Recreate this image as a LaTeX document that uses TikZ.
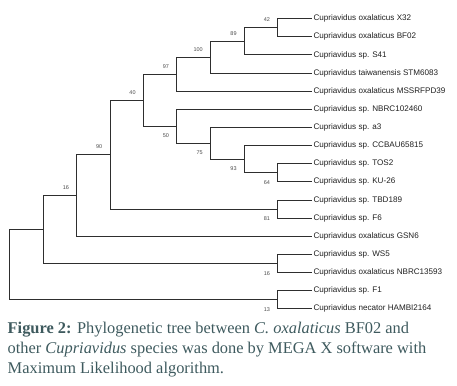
\documentclass[tikz,border=0pt]{standalone}
\usepackage{fontspec}
\setmainfont{Liberation Serif}
\newfontfamily\arialf{Liberation Sans}
\definecolor{capcol}{HTML}{3E5A5E}
\begin{document}
\begin{tikzpicture}[x=1pt,y=-1pt,
  branch/.style={draw=black!82, line width=0.9pt},
  leaflab/.style={anchor=west, font=\arialf\fontsize{8.1}{9}\selectfont, text=black!88, inner xsep=1.8pt, inner ysep=0pt},
  boot/.style={anchor=east, font=\arialf\fontsize{5.5}{6}\selectfont, text=black!70, inner sep=0pt},
  caption/.style={anchor=base west, font=\fontsize{16.4}{20}\selectfont, text=capcol, inner sep=0pt}]
\useasboundingbox (0,0) rectangle (457,385);
% leaves
\node[leaflab] (t0) at (311.5,18.7) {Cupriavidus oxalaticus X32};
\node[leaflab] (t1) at (311.5,36.8) {Cupriavidus oxalaticus BF02};
\node[leaflab] (t2) at (311.5,54.95) {Cupriavidus sp. S41};
\node[leaflab] (t3) at (311.5,73.1) {Cupriavidus taiwanensis STM6083};
\node[leaflab] (t4) at (311.5,91.2) {Cupriavidus oxalaticus MSSRFPD39};
\node[leaflab] (t5) at (311.5,109.3) {Cupriavidus sp. NBRC102460};
\node[leaflab] (t6) at (311.5,127.45) {Cupriavidus sp. a3};
\node[leaflab] (t7) at (311.5,145.6) {Cupriavidus sp. CCBAU65815};
\node[leaflab] (t8) at (311.5,163.7) {Cupriavidus sp. TOS2};
\node[leaflab] (t9) at (311.5,181.8) {Cupriavidus sp. KU-26};
\node[leaflab] (t10) at (311.5,199.95) {Cupriavidus sp. TBD189};
\node[leaflab] (t11) at (311.5,218.1) {Cupriavidus sp. F6};
\node[leaflab] (t12) at (311.5,236.2) {Cupriavidus oxalaticus GSN6};
\node[leaflab] (t13) at (311.5,254.3) {Cupriavidus sp. WS5};
\node[leaflab] (t14) at (311.5,272.45) {Cupriavidus oxalaticus NBRC13593};
\node[leaflab] (t15) at (311.5,290.6) {Cupriavidus sp. F1};
\node[leaflab] (t16) at (311.5,308.7) {Cupriavidus necator HAMBI2164};
% internal nodes
\coordinate (n42) at (277.7,27.75);
\coordinate (n89) at (244.3,41.35);
\coordinate (n100) at (210.5,57.2);
\coordinate (n97) at (176.7,74.2);
\coordinate (n64) at (277.7,172.75);
\coordinate (n93) at (244.3,159.2);
\coordinate (n75) at (210.5,143.3);
\coordinate (n50) at (176.7,126.3);
\coordinate (n40) at (143.3,100.25);
\coordinate (n81) at (277.7,209);
\coordinate (n90) at (110,154.6);
\coordinate (n16) at (76.7,195.4);
\coordinate (n16b) at (277.7,263.4);
\coordinate (nA) at (43.3,229.4);
\coordinate (n13) at (277.7,299.65);
\coordinate (root) at (9.7,264.5);
% branches
\draw[branch] (n42) |- (t0.west);
\draw[branch] (n42) |- (t1.west);
\draw[branch] (n89) |- (n42);
\draw[branch] (n89) |- (t2.west);
\draw[branch] (n100) |- (n89);
\draw[branch] (n100) |- (t3.west);
\draw[branch] (n97) |- (n100);
\draw[branch] (n97) |- (t4.west);
\draw[branch] (n64) |- (t8.west);
\draw[branch] (n64) |- (t9.west);
\draw[branch] (n93) |- (t7.west);
\draw[branch] (n93) |- (n64);
\draw[branch] (n75) |- (t6.west);
\draw[branch] (n75) |- (n93);
\draw[branch] (n50) |- (t5.west);
\draw[branch] (n50) |- (n75);
\draw[branch] (n40) |- (n97);
\draw[branch] (n40) |- (n50);
\draw[branch] (n81) |- (t10.west);
\draw[branch] (n81) |- (t11.west);
\draw[branch] (n90) |- (n40);
\draw[branch] (n90) |- (n81);
\draw[branch] (n16) |- (n90);
\draw[branch] (n16) |- (t12.west);
\draw[branch] (n16b) |- (t13.west);
\draw[branch] (n16b) |- (t14.west);
\draw[branch] (nA) |- (n16);
\draw[branch] (nA) |- (n16b);
\draw[branch] (n13) |- (t15.west);
\draw[branch] (n13) |- (t16.west);
\draw[branch] (root) |- (nA);
\draw[branch] (root) |- (n13);
% bootstrap values
\node[boot] (b42) at ([xshift=-7.5pt,yshift=7.8pt]n42) {42};
\node[boot] (b89) at ([xshift=-7.5pt,yshift=8pt]n89) {89};
\node[boot] (b100) at ([xshift=-7.5pt,yshift=8pt]n100) {100};
\node[boot] (b97) at ([xshift=-7.5pt,yshift=8pt]n97) {97};
\node[boot] (b40) at ([xshift=-7.5pt,yshift=8pt]n40) {40};
\node[boot] (b90) at ([xshift=-7.5pt,yshift=8pt]n90) {90};
\node[boot] (b16) at ([xshift=-7.5pt,yshift=8pt]n16) {16};
\node[boot] (b50) at ([xshift=-7.5pt,yshift=-9.5pt]n50) {50};
\node[boot] (b75) at ([xshift=-7.5pt,yshift=-9.5pt]n75) {75};
\node[boot] (b93) at ([xshift=-7.5pt,yshift=-9.5pt]n93) {93};
\node[boot] (b64) at ([xshift=-7.5pt,yshift=-9.8pt]n64) {64};
\node[boot] (b81) at ([xshift=-7.5pt,yshift=-9.8pt]n81) {81};
\node[boot] (b16b) at ([xshift=-7.5pt,yshift=-9.8pt]n16b) {16};
\node[boot] (b13) at ([xshift=-7.5pt,yshift=-9.8pt]n13) {13};
% caption
\node[caption] (c1) at (7.5,333.3) {\textbf{Figure 2:} Phylogenetic tree between \textit{C. oxalaticus} BF02 and};
\node[caption] (c2) at (7.5,353.3) {other \textit{Cupriavidus} species was done by MEGA X software with};
\node[caption] (c3) at (7.5,373.3) {Maximum Likelihood algorithm.};
\end{tikzpicture}
\end{document}
